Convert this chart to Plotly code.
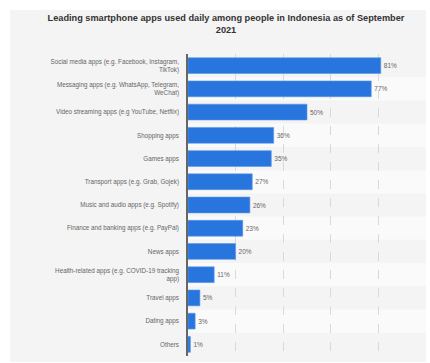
import plotly.graph_objects as go

categories = [
    "Social media apps (e.g. Facebook, Instagram,<br>TikTok)",
    "Messaging apps (e.g. WhatsApp, Telegram,<br>WeChat)",
    "Video streaming apps (e.g YouTube, Netflix)",
    "Shopping apps",
    "Games apps",
    "Transport apps (e.g. Grab, Gojek)",
    "Music and audio apps (e.g. Spotify)",
    "Finance and banking apps (e.g. PayPal)",
    "News apps",
    "Health-related apps (e.g. COVID-19 tracking<br>app)",
    "Travel apps",
    "Dating apps",
    "Others",
]
values = [81, 77, 50, 36, 35, 27, 26, 23, 20, 11, 5, 3, 1]
labels = [f"{v}%" for v in values]

W, H = 430, 363
L, R, T, B = 188, 4, 54, 7
pw, ph = W - L - R, H - T - B

fig = go.Figure()
fig.add_trace(go.Bar(
    x=values, y=categories, orientation="h",
    text=labels, textposition="outside", cliponaxis=False,
    textfont=dict(family="Liberation Sans, Arial", size=6.5, color="#666666"),
    marker=dict(color="#2876dd", line=dict(color="#5b97e8", width=0.6)),
    width=0.68,
))

shapes = []
# outer gray panel
shapes.append(dict(type="rect", xref="paper", yref="paper", layer="below",
                   x0=(10 - L) / pw, x1=(426 - L) / pw,
                   y0=(H - B - 362) / ph, y1=(H - B - 10) / ph,
                   fillcolor="#f4f4f4", line=dict(width=0)))
# alternating row bands
for i, c in enumerate(categories):
    if i % 2 == 1:
        shapes.append(dict(type="rect", xref="paper", yref="y", layer="below",
                           x0=0, x1=1, y0=i - 0.5, y1=i + 0.5,
                           fillcolor="#fafafa", line=dict(width=0)))

fig.update_layout(
    width=W, height=H,
    margin=dict(l=L, r=R, t=T, b=B),
    paper_bgcolor="white",
    plot_bgcolor="#f3f3f3",
    showlegend=False,
    shapes=shapes,
    title=dict(
        text="<b>Leading smartphone apps used daily among people in Indonesia as of September<br>2021</b>",
        x=226 / W, xanchor="center", y=1 - 21 / H, yanchor="top",
        font=dict(family="Liberation Sans, Arial", size=9.2, color="#333333"),
    ),
    bargap=0.3,
)
fig.update_xaxes(range=[0, 100], dtick=20, showticklabels=False,
                 showgrid=True, gridcolor="#d9d9d9", griddash="dash", gridwidth=0.8,
                 zeroline=False, fixedrange=True)
fig.update_yaxes(autorange="reversed",
                 tickfont=dict(family="Liberation Sans, Arial", size=6.3, color="#666666"),
                 showline=True, linecolor="#666666", linewidth=1.5,
                 ticks="", ticklabelstandoff=6, showgrid=False)

fig.write_html("out.html")
